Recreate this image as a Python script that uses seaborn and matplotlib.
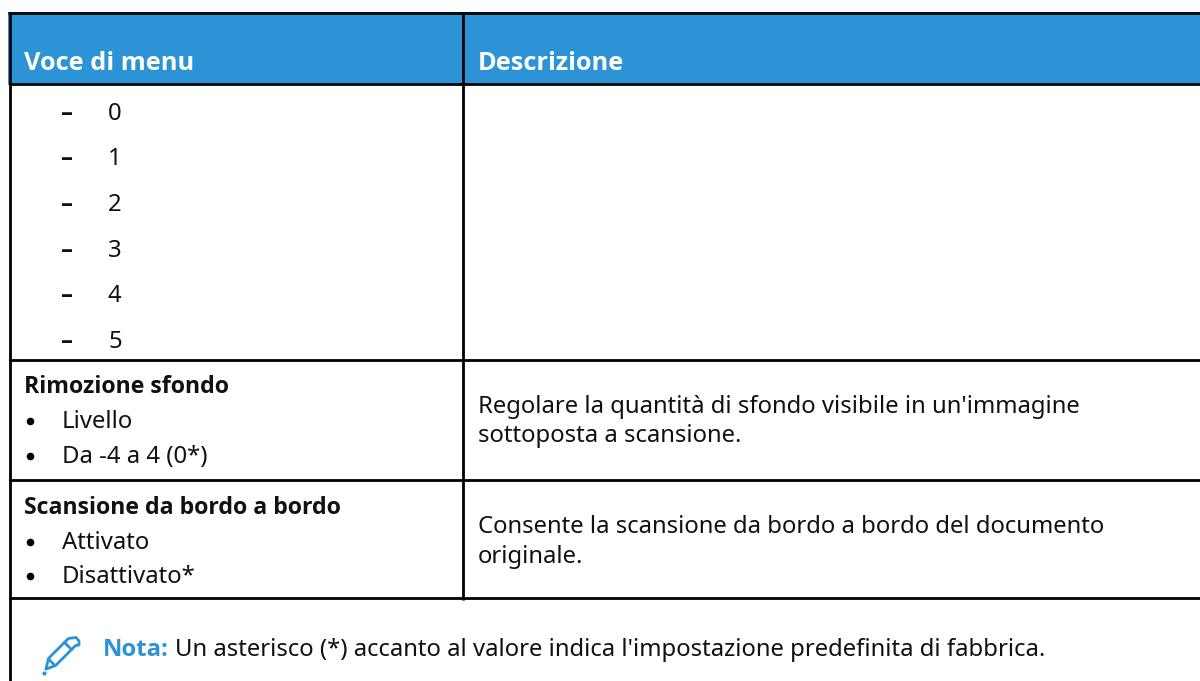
import pandas as pd
import seaborn as sns
import matplotlib.pyplot as plt

header_labels = ["Voce di menu", "Descrizione"]
dash_items = ["0", "1", "2", "3", "4", "5"]
left_titles = ["Rimozione sfondo", "Scansione da bordo a bordo"]
left_bullets = [["Livello", "Da -4 a 4 (0*)"], ["Attivato", "Disattivato*"]]
right_lines = [["Regolare la quantità di sfondo visibile in un'immagine",
                "sottoposta a scansione."],
               ["Consente la scansione da bordo a bordo del documento",
                "originale."]]
note_label = "Nota:"
note_text = "Un asterisco (*) accanto al valore indica l'impostazione predefinita di fabbrica."

dash_y = [120, 165, 211, 257, 302, 348]
title_y = [393, 514]
bullet_y = [[428, 463], [549, 583]]
right_y = [[413, 442], [533, 563]]

BLUE = "#2b93d6"
SIZE = 17.2

sns.set_theme(style="white")
plt.rcParams["font.family"] = ["Noto Sans", "DejaVu Sans"]

fig = plt.figure(figsize=(12, 6.81), dpi=100)
ax = fig.add_axes([0, 0, 1, 1])

# header band
ax.fill_between([8, 1200], 12, 85, color=BLUE, lw=0, zorder=1)

rules = pd.DataFrame({
    "x": [8, 1200, 9, 1200, 9, 1200, 9, 1200, 9, 1200, 10, 10, 463, 463],
    "y": [13.4, 13.4, 84, 84, 359.6, 359.6, 480.3, 480.3, 597.5, 597.5, 12, 681, 12, 600],
    "rule": ["top", "top", "head", "head", "r0", "r0", "r1", "r1", "r2", "r2",
             "left", "left", "mid", "mid"],
})
sns.lineplot(data=rules, x="x", y="y", units="rule", estimator=None, sort=False,
             color="black", lw=2, ax=ax, legend=False, zorder=3,
             solid_capstyle="butt")
ax.set_xlim(0, 1200)
ax.set_ylim(681, 0)
ax.axis("off")


def put(x, y, s, bold=False, size=SIZE, **kw):
    kw.setdefault("color", "#111111")
    if bold:
        kw["family"] = ["Open Sans", "DejaVu Sans"]
        kw["fontweight"] = "bold"
    return ax.text(x, y, s, fontsize=size, va="baseline", ha="left", zorder=4, **kw)


put(24, 69.5, header_labels[0], bold=True, size=18.3, color="white")
put(478, 69.5, header_labels[1], bold=True, size=18.3, color="white")

for yy, item in zip(dash_y, dash_items):
    put(61, yy, "–", bold=True)
    put(108, yy, item)

for k in range(2):
    put(24, title_y[k], left_titles[k], bold=True, size=16.7)
    for yy, s in zip(bullet_y[k], left_bullets[k]):
        ax.scatter([30], [yy - 7.5], s=30, color="black", lw=0, zorder=4)
        put(62, yy, s)
    for yy, s in zip(right_y[k], right_lines[k]):
        put(478, yy, s)

put(103, 656, note_label, bold=True, color=BLUE)
put(175, 656, note_text)

# pencil icon
pencil_x = [46, 48.5, 68.5, 72, 76, 79, 79, 75.5, 55.5, 46]
pencil_y = [669, 658.4, 638.4, 638, 637.5, 641, 645, 645.6, 665.6, 669]
ax.plot(pencil_x, pencil_y, color=BLUE, lw=2, zorder=4)
ax.plot([64.5, 71.5], [642.4, 649.6], color=BLUE, lw=2, zorder=4)
ax.plot([49, 54], [659.5, 664.5], color=BLUE, lw=2, zorder=4)
ax.scatter([43.5], [672.5], s=9, color=BLUE, lw=0, zorder=4)

fig.savefig("out.png", dpi=100)
